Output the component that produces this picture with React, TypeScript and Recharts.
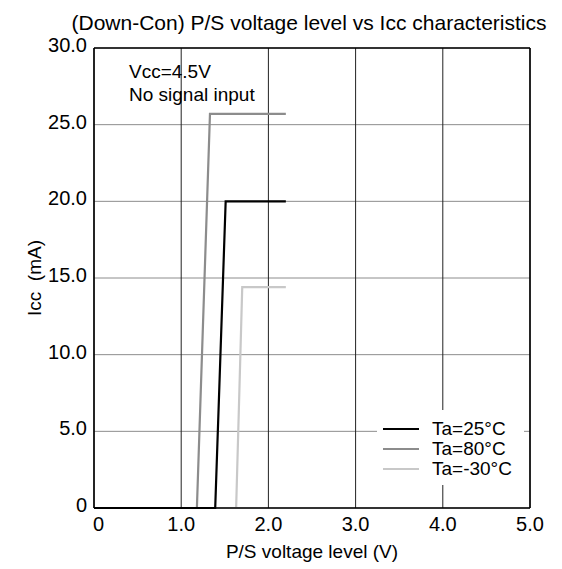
import { CartesianGrid, Legend, Line, LineChart, ReferenceLine, XAxis, YAxis } from "recharts";

const xTicks = [0, 1, 2, 3, 4, 5];
const yTicks = [0, 5, 10, 15, 20, 25, 30];

// P/S voltage (V) and Icc (mA) per temperature
const volt25 = [0, 1.39, 1.51, 2.2];
const icc25 = [0, 0, 20.0, 20.0];
const volt80 = [0, 1.18, 1.33, 2.2];
const icc80 = [0, 0, 25.7, 25.7];
const voltM30 = [0, 1.63, 1.7, 2.2];
const iccM30 = [0, 0, 14.4, 14.4];

const seriesNames = ["Ta=25°C", "Ta=80°C", "Ta=-30°C"];
const seriesColors = ["#000000", "#8c8c8c", "#c8c8c8"];

const toPoints = (xs: number[], ys: number[]) => xs.map((v, i) => ({ v, icc: ys[i] }));

const series = [
  { name: seriesNames[0], color: seriesColors[0], data: toPoints(volt25, icc25) },
  { name: seriesNames[1], color: seriesColors[1], data: toPoints(volt80, icc80) },
  { name: seriesNames[2], color: seriesColors[2], data: toPoints(voltM30, iccM30) },
];
// draw order: -30, 80, 25 on top
const drawOrder = [2, 1, 0];

const FONT = "'Liberation Sans', Arial, sans-serif";
const fmt = (v: number) => (v === 0 ? "0" : v.toFixed(1));

function XTick({ x, y, payload }: any) {
  const zero = payload.value === 0;
  return (
    <text x={zero ? x - 1 : x} y={y} dy={17} textAnchor={zero ? "start" : "middle"} fontSize={20} fill="#000" fontFamily={FONT}>
      {fmt(payload.value)}
    </text>
  );
}

function YTick({ x, y, payload }: any) {
  return (
    <text x={x + 1} y={y} dy={4} textAnchor="end" fontSize={20} fill="#000" fontFamily={FONT}>
      {fmt(payload.value)}
    </text>
  );
}

function LegendBox() {
  return (
    <div style={{ background: "#fff", width: 147, height: 75, position: "relative", fontFamily: FONT, fontSize: 19 }}>
      {seriesNames.map((n, i) => (
        <div key={n} style={{ position: "absolute", left: 0, top: 9 + i * 20, height: 20, display: "flex", alignItems: "center" }}>
          <div style={{ marginLeft: 6, width: 36, height: 2, background: seriesColors[i] }} />
          <span style={{ marginLeft: 13, color: "#000" }}>{n}</span>
        </div>
      ))}
    </div>
  );
}

export default function App() {
  return (
    <div style={{ position: "absolute", left: 0, top: 0, width: 562, height: 569, background: "#fff", fontFamily: FONT }}>
      <div style={{ position: "absolute", left: 0, width: 618, top: 11, textAlign: "center", fontSize: 21, color: "#000", whiteSpace: "pre" }}>
        (Down-Con) P/S voltage level vs Icc characteristics
      </div>
      <LineChart width={562} height={569} margin={{ top: 48, right: 32, left: 0, bottom: 0 }}>
        <CartesianGrid horizontal={true} vertical={false} stroke="#8c8c8c" strokeWidth={1} />
        <CartesianGrid horizontal={false} vertical={true} stroke="#222" strokeWidth={1} />
        <XAxis
          type="number"
          dataKey="v"
          domain={[0, 5]}
          ticks={xTicks}
          height={61}
          tickSize={0}
          tickMargin={6}
          tickLine={false}
          axisLine={{ stroke: "#000", strokeWidth: 1.5 }}
          tick={<XTick />}
          allowDuplicatedCategory={false}
        />
        <YAxis
          type="number"
          dataKey="icc"
          domain={[0, 30]}
          ticks={yTicks}
          width={94}
          tickSize={0}
          tickMargin={8}
          tickLine={false}
          axisLine={{ stroke: "#000", strokeWidth: 1.5 }}
          tick={<YTick />}
        />
        <ReferenceLine y={30} stroke="#000" strokeWidth={1.5} />
        <ReferenceLine x={5} stroke="#000" strokeWidth={1.5} />
        {drawOrder.map((i) => (
          <Line
            key={series[i].name}
            data={series[i].data}
            dataKey="icc"
            name={series[i].name}
            type="linear"
            stroke={series[i].color}
            strokeWidth={2.2}
            dot={false}
            activeDot={false}
            isAnimationActive={false}
          />
        ))}
        <Legend
          layout="horizontal"
          verticalAlign="middle"
          align="center"
          content={<LegendBox />}
          wrapperStyle={{ position: "absolute", left: 377, top: 410, width: 147, height: 75 }}
        />
      </LineChart>
      <div style={{ position: "absolute", left: 129, top: 60, fontSize: 19, lineHeight: "23px", color: "#000" }}>
        Vcc=4.5V
        <br />
        No signal input
      </div>
      <div
        style={{
          position: "absolute",
          left: 35,
          top: 278,
          transform: "translate(-50%, -50%) rotate(-90deg)",
          fontSize: 19,
          whiteSpace: "pre",
          color: "#000",
        }}
      >
        Icc  (mA)
      </div>
      <div style={{ position: "absolute", left: 94, width: 436, top: 541, textAlign: "center", fontSize: 19, color: "#000" }}>
        P/S voltage level (V)
      </div>
    </div>
  );
}
